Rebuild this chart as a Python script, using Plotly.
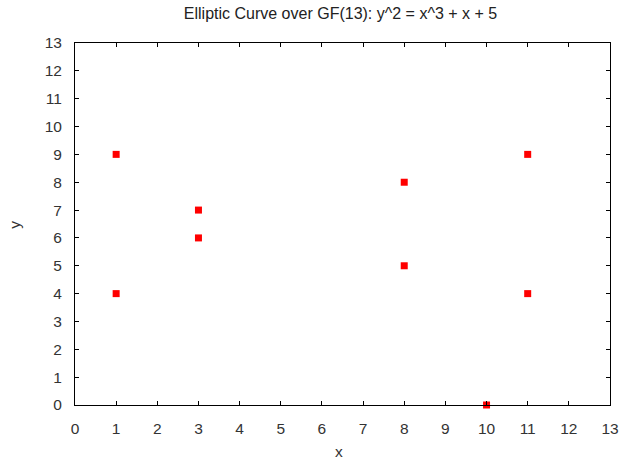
import plotly.graph_objects as go

x_vals = [1, 1, 3, 3, 8, 8, 10, 11, 11]
y_vals = [9, 4, 7, 6, 8, 5, 0, 9, 4]
tick_vals = list(range(0, 14))
title_text = "Elliptic Curve over GF(13): y^2 = x^3 + x + 5"

L, R, T, B = 74.5, 610, 42.5, 405
W, H = 619, 459

fig = go.Figure()
fig.add_trace(go.Scatter(
    x=x_vals, y=y_vals, mode="markers",
    marker=dict(symbol="square", size=7, color="#ff0000", line=dict(width=0)),
    cliponaxis=False, showlegend=False,
))

fam = "Liberation Sans, Arial, sans-serif"
font = dict(family=fam, size=15.5, color="#333333")
axis_common = dict(
    range=[0, 13], tickvals=tick_vals, ticks="inside", ticklen=4, tickwidth=1,
    tickcolor="#000000", showline=True, linecolor="#000000", linewidth=1,
    mirror="ticks", showgrid=False, zeroline=False, tickfont=font,
    automargin=False, ticklabelstandoff=9,
)
fig.update_layout(
    width=W, height=H,
    margin=dict(l=L, r=W - R, t=T, b=H - B),
    paper_bgcolor="white", plot_bgcolor="white",
    title=dict(text=title_text, x=340.5 / W, xanchor="center",
               y=1 - 13 / H, yanchor="middle",
               font=dict(family=fam, size=16, color="#222222")),
    xaxis=dict(**axis_common),
    yaxis=dict(**axis_common),
    annotations=[
        dict(text="x", xref="paper", yref="paper", x=(338.5 - L) / (R - L),
             y=-(452 - B) / (B - T),
             xanchor="center", yanchor="middle", showarrow=False, font=font),
        dict(text="y", xref="paper", yref="paper", x=-(L - 14) / (R - L), y=(B - 225) / (B - T),
             xanchor="center", yanchor="middle", showarrow=False, textangle=-90, font=font),
    ],
)
fig.write_html("out.html")
